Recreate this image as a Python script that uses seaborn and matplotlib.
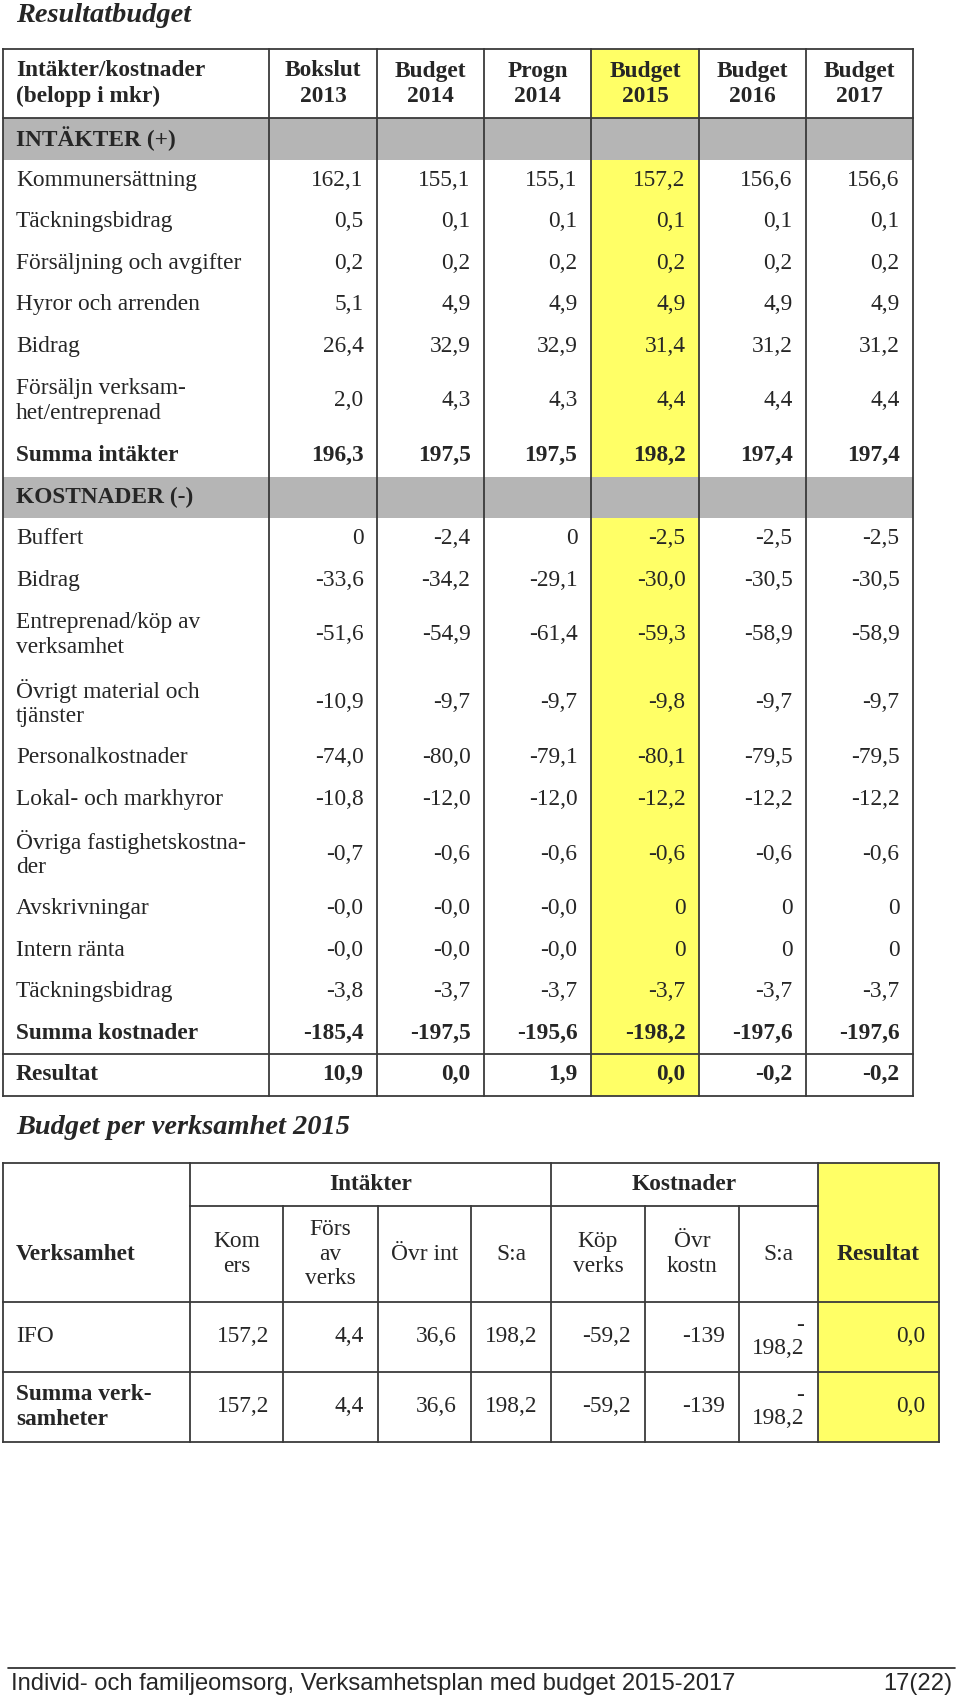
import numpy as np
import pandas as pd
import seaborn as sns
import matplotlib.pyplot as plt
from matplotlib.patches import Rectangle

sns.set_theme(style="white")
plt.rcParams['font.family'] = ['Liberation Serif', 'DejaVu Serif']

# --- data: Resultatbudget ---
col_headers = ["Bokslut\n2013", "Budget\n2014", "Progn\n2014", "Budget\n2015", "Budget\n2016", "Budget\n2017"]
row_labels = ["INTÄKTER (+)", "Kommunersättning", "Täckningsbidrag", "Försäljning och avgifter",
              "Hyror och arrenden", "Bidrag", "Försäljn verksam-\nhet/entreprenad", "Summa intäkter",
              "KOSTNADER (-)", "Buffert", "Bidrag", "Entreprenad/köp av\nverksamhet",
              "Övrigt material och\ntjänster", "Personalkostnader", "Lokal- och markhyror",
              "Övriga fastighetskostna-\nder", "Avskrivningar", "Intern ränta", "Täckningsbidrag",
              "Summa kostnader", "Resultat"]
bokslut_2013 = [None, "162,1", "0,5", "0,2", "5,1", "26,4", "2,0", "196,3", None, "0", "-33,6", "-51,6",
                "-10,9", "-74,0", "-10,8", "-0,7", "-0,0", "-0,0", "-3,8", "-185,4", "10,9"]
budget_2014 = [None, "155,1", "0,1", "0,2", "4,9", "32,9", "4,3", "197,5", None, "-2,4", "-34,2", "-54,9",
               "-9,7", "-80,0", "-12,0", "-0,6", "-0,0", "-0,0", "-3,7", "-197,5", "0,0"]
progn_2014 = [None, "155,1", "0,1", "0,2", "4,9", "32,9", "4,3", "197,5", None, "0", "-29,1", "-61,4",
              "-9,7", "-79,1", "-12,0", "-0,6", "-0,0", "-0,0", "-3,7", "-195,6", "1,9"]
budget_2015 = [None, "157,2", "0,1", "0,2", "4,9", "31,4", "4,4", "198,2", None, "-2,5", "-30,0", "-59,3",
               "-9,8", "-80,1", "-12,2", "-0,6", "0", "0", "-3,7", "-198,2", "0,0"]
budget_2016 = [None, "156,6", "0,1", "0,2", "4,9", "31,2", "4,4", "197,4", None, "-2,5", "-30,5", "-58,9",
               "-9,7", "-79,5", "-12,2", "-0,6", "0", "0", "-3,7", "-197,6", "-0,2"]
budget_2017 = [None, "156,6", "0,1", "0,2", "4,9", "31,2", "4,4", "197,4", None, "-2,5", "-30,5", "-58,9",
               "-9,7", "-79,5", "-12,2", "-0,6", "0", "0", "-3,7", "-197,6", "-0,2"]
section_rows = ["INTÄKTER (+)", "KOSTNADER (-)"]
bold_rows = ["Summa intäkter", "Summa kostnader", "Resultat"]

# --- data: Budget per verksamhet 2015 ---
verksamhet = ["IFO", "Summa verk-\nsamheter"]
kom_ers = ["157,2", "157,2"]
fors_av_verks = ["4,4", "4,4"]
ovr_int = ["36,6", "36,6"]
sa_int = ["198,2", "198,2"]
kop_verks = ["-59,2", "-59,2"]
ovr_kostn = ["-139", "-139"]
sa_kostn = ["-\n198,2", "-\n198,2"]
resultat = ["0,0", "0,0"]
sub_headers = ["Kom\ners", "Förs\nav\nverks", "Övr int", "S:a", "Köp\nverks", "Övr\nkostn", "S:a"]

# --- layout ---
W, H = 960, 1703
FS = 16.8
LC = '#3a3a3a'
LW = 1.3
YELLOW = '#ffff66'
GRAY = '#b5b5b5'

fig = plt.figure(figsize=(W / 100, H / 100), dpi=100)
ax = fig.add_axes([0, 0, 1, 1])
ax.set_xlim(0, W)
ax.set_ylim(H, 0)
ax.axis('off')


def hline(y, x0, x1):
    ax.plot([x0, x1], [y, y], color=LC, lw=LW, solid_capstyle='projecting')


def vline(x, y0, y1):
    ax.plot([x, x], [y0, y1], color=LC, lw=LW, solid_capstyle='projecting')


def fill(x0, y0, x1, y1, c):
    ax.add_patch(Rectangle((x0, y0), x1 - x0, y1 - y0, facecolor=c, edgecolor='none', zorder=0))


# titles
ax.text(16, 15, "Resultatbudget", fontsize=20.4, fontweight='bold', fontstyle='italic', va='center')
ax.text(16, 1128, "Budget per verksamhet 2015", fontsize=20.4, fontweight='bold', fontstyle='italic', va='center')

# ---------- table 1 ----------
xs = [3, 269, 377, 484, 591, 699, 806, 913]
top, head_bot = 49, 118
single, double = 41.5, 68
heights = [double if "\n" in lab else single for lab in row_labels]
edges = np.concatenate([[head_bot], head_bot + np.cumsum(heights)])
bottom = edges[-1]

fill(xs[4], top, xs[5], bottom, YELLOW)
for i, lab in enumerate(row_labels):
    if lab in section_rows:
        fill(xs[0], edges[i], xs[-1], edges[i + 1], GRAY)

ax.text(16, (top + head_bot) / 2, "Intäkter/kostnader\n(belopp i mkr)", fontsize=FS,
        fontweight='bold', va='center', ha='left', linespacing=1.25)
for j, h in enumerate(col_headers):
    ax.text((xs[j + 1] + xs[j + 2]) / 2, (top + head_bot) / 2, h, fontsize=FS, fontweight='bold',
            va='center', ha='center', linespacing=1.25)

columns = [bokslut_2013, budget_2014, progn_2014, budget_2015, budget_2016, budget_2017]
for i, lab in enumerate(row_labels):
    ymid = (edges[i] + edges[i + 1]) / 2
    bold = lab in bold_rows or lab in section_rows
    ax.text(16, ymid, lab, fontsize=FS, fontweight='bold' if bold else 'normal',
            va='center', ha='left', linespacing=1.2)
    for j, col in enumerate(columns):
        v = col[i]
        if v is None:
            continue
        ax.text(xs[j + 2] - 13.5, ymid, v, fontsize=FS, fontweight='bold' if bold else 'normal',
                va='center', ha='right')

for x in xs:
    vline(x, top, bottom)
hline(top, xs[0], xs[-1])
hline(head_bot, xs[0], xs[-1])
hline(edges[-2], xs[0], xs[-1])
hline(bottom, xs[0], xs[-1])

# ---------- table 2 ----------
xs2 = [3, 190, 283, 378, 471, 551, 645, 739, 818, 939]
t2_top, t2_sub, t2_head, t2_r1, t2_bot = 1163, 1206, 1302, 1372, 1442
fill(xs2[8], t2_top, xs2[9], t2_bot, YELLOW)

for x in [xs2[0], xs2[1], xs2[5], xs2[8], xs2[9]]:
    vline(x, t2_top, t2_bot)
for x in [xs2[2], xs2[3], xs2[4], xs2[6], xs2[7]]:
    vline(x, t2_sub, t2_bot)
hline(t2_top, xs2[0], xs2[9])
hline(t2_sub, xs2[1], xs2[8])
for y in [t2_head, t2_r1, t2_bot]:
    hline(y, xs2[0], xs2[9])

hmid = (t2_sub + t2_head) / 2 + 1
ax.text(16, hmid, "Verksamhet", fontsize=FS, fontweight='bold', va='center', ha='left')
ax.text((xs2[1] + xs2[5]) / 2, (t2_top + t2_sub) / 2, "Intäkter", fontsize=FS, fontweight='bold',
        va='center', ha='center')
ax.text((xs2[5] + xs2[8]) / 2, (t2_top + t2_sub) / 2, "Kostnader", fontsize=FS, fontweight='bold',
        va='center', ha='center')
ax.text((xs2[8] + xs2[9]) / 2, hmid, "Resultat", fontsize=FS, fontweight='bold', va='center', ha='center')
for j, s in enumerate(sub_headers):
    ax.text((xs2[j + 1] + xs2[j + 2]) / 2, (t2_sub + t2_head) / 2, s, fontsize=FS,
            va='center', ha='center', multialignment='center', linespacing=1.2)

cols2 = [kom_ers, fors_av_verks, ovr_int, sa_int, kop_verks, ovr_kostn, sa_kostn, resultat]
row_edges2 = [t2_head, t2_r1, t2_bot]
for i, name in enumerate(verksamhet):
    ymid = (row_edges2[i] + row_edges2[i + 1]) / 2
    ax.text(16, ymid, name, fontsize=FS, fontweight='bold' if i == 1 else 'normal',
            va='center', ha='left', linespacing=1.2)
    for j, col in enumerate(cols2):
        ax.text(xs2[j + 2] - 14, ymid, col[i], fontsize=FS, va='center', ha='right',
                multialignment='right', linespacing=1.1)

# ---------- footer ----------
ax.plot([8, 955], [1668, 1668], color='#222222', lw=1.2)
ax.text(11, 1684, "Individ- och familjeomsorg, Verksamhetsplan med budget 2015-2017", fontsize=17.1,
        family=['Liberation Sans', 'DejaVu Sans'], va='center', ha='left')
ax.text(952, 1684, "17(22)", fontsize=17.1, family=['Liberation Sans', 'DejaVu Sans'],
        va='center', ha='right')

fig.savefig("out.png", dpi=100, facecolor='white')
